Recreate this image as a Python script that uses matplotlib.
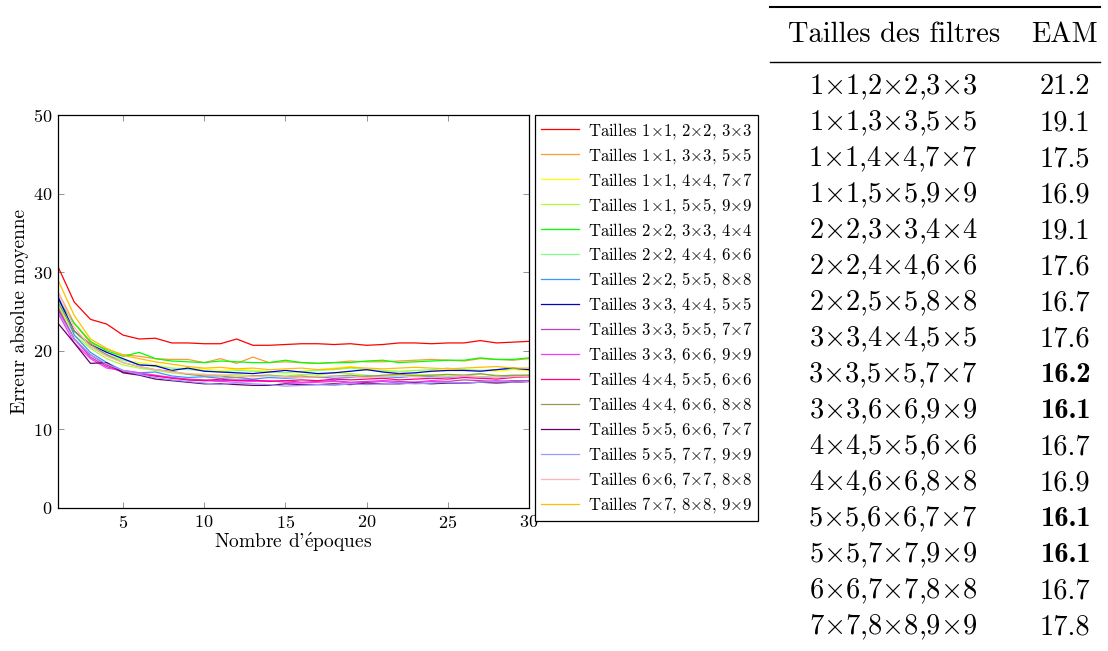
import matplotlib
matplotlib.use('Agg')
import matplotlib.pyplot as plt
import numpy as np
from matplotlib.lines import Line2D

plt.rcParams['font.family'] = ['cmr10', 'DejaVu Serif']
plt.rcParams['mathtext.fontset'] = 'cm'
plt.rcParams['axes.unicode_minus'] = False
plt.rcParams['axes.formatter.use_mathtext'] = True

epochs = np.arange(1, 31)

labels = ['1$\\times$1, 2$\\times$2, 3$\\times$3', '1$\\times$1, 3$\\times$3, 5$\\times$5',
          '1$\\times$1, 4$\\times$4, 7$\\times$7', '1$\\times$1, 5$\\times$5, 9$\\times$9',
          '2$\\times$2, 3$\\times$3, 4$\\times$4', '2$\\times$2, 4$\\times$4, 6$\\times$6',
          '2$\\times$2, 5$\\times$5, 8$\\times$8', '3$\\times$3, 4$\\times$4, 5$\\times$5',
          '3$\\times$3, 5$\\times$5, 7$\\times$7', '3$\\times$3, 6$\\times$6, 9$\\times$9',
          '4$\\times$4, 5$\\times$5, 6$\\times$6', '4$\\times$4, 6$\\times$6, 8$\\times$8',
          '5$\\times$5, 6$\\times$6, 7$\\times$7', '5$\\times$5, 7$\\times$7, 9$\\times$9',
          '6$\\times$6, 7$\\times$7, 8$\\times$8', '7$\\times$7, 8$\\times$8, 9$\\times$9']

colors = ['#ff0000', '#ff9933', '#ffff00', '#aaff33', '#00ff00', '#80ff80',
          '#3399ff', '#0000cc', '#bf40bf', '#ff33ff', '#ff0080', '#999955',
          '#660066', '#9999ff', '#ffb3b3', '#ffbf00']

s_123 = [30.7, 26.2, 24.0, 23.4, 22.0, 21.5, 21.6, 21.0, 21.0, 20.9, 20.9, 21.5, 20.7, 20.7, 20.8,
         20.9, 20.9, 20.8, 20.9, 20.7, 20.8, 21.0, 21.0, 20.9, 21.0, 21.0, 21.3, 21.0, 21.1, 21.2]
s_135 = [27.5, 23.5, 21.0, 20.2, 19.5, 19.3, 19.0, 18.9, 18.9, 18.5, 19.0, 18.4, 19.2, 18.5, 18.6,
         18.5, 18.4, 18.5, 18.7, 18.6, 18.6, 18.7, 18.8, 18.9, 18.8, 18.7, 19.0, 18.9, 18.8, 19.0]
s_147 = [25.5, 22.5, 20.5, 19.5, 18.8, 18.5, 18.2, 17.8, 17.8, 17.7, 17.5, 17.7, 17.5, 17.4, 17.2,
         17.3, 17.6, 17.8, 18.0, 17.7, 17.4, 17.3, 17.5, 17.4, 17.5, 17.6, 17.5, 17.4, 17.6, 17.5]
s_159 = [25.8, 22.0, 20.3, 19.0, 18.2, 17.8, 17.5, 17.2, 17.0, 17.0, 16.9, 17.0, 16.8, 16.9, 16.8,
         17.0, 16.9, 17.2, 17.1, 16.9, 16.8, 16.9, 17.0, 16.9, 16.8, 16.9, 17.0, 16.9, 16.8, 16.9]
s_234 = [26.5, 23.5, 21.2, 20.0, 19.3, 19.8, 19.0, 18.7, 18.6, 18.5, 18.7, 18.6, 18.5, 18.5, 18.8,
         18.5, 18.4, 18.5, 18.5, 18.7, 18.8, 18.5, 18.6, 18.7, 18.8, 18.8, 19.1, 18.9, 18.9, 19.1]
s_246 = [26.0, 22.5, 20.5, 19.5, 18.8, 18.3, 18.0, 17.8, 17.6, 17.5, 17.3, 17.5, 17.4, 17.3, 17.2,
         17.4, 17.5, 17.6, 17.8, 17.6, 17.5, 17.4, 17.5, 17.6, 17.8, 17.6, 17.5, 17.6, 17.7, 17.6]
s_258 = [27.0, 22.0, 19.8, 18.5, 17.5, 17.2, 17.3, 16.8, 16.6, 16.7, 16.5, 16.6, 16.4, 16.6, 16.5,
         16.6, 16.7, 16.5, 16.6, 16.8, 16.7, 16.6, 16.8, 16.7, 16.6, 16.8, 16.7, 16.6, 16.8, 16.7]
s_345 = [26.8, 22.5, 20.8, 19.8, 19.0, 18.2, 18.1, 17.5, 17.8, 17.4, 17.3, 17.2, 17.1, 17.3, 17.5,
         17.3, 17.1, 17.2, 17.4, 17.6, 17.3, 17.1, 17.2, 17.4, 17.5, 17.5, 17.4, 17.6, 17.8, 17.6]
s_357 = [25.5, 21.5, 19.2, 18.0, 17.3, 17.0, 16.8, 16.6, 16.4, 16.3, 16.2, 16.3, 16.2, 16.1, 16.2,
         16.0, 16.1, 16.2, 16.0, 16.1, 16.2, 16.1, 16.0, 16.2, 16.1, 16.3, 16.2, 16.1, 16.2, 16.2]
s_369 = [24.8, 21.0, 19.0, 17.8, 17.5, 17.2, 16.9, 16.6, 16.3, 16.2, 16.1, 16.0, 16.1, 16.2, 16.0,
         15.9, 16.0, 16.1, 15.9, 16.0, 16.1, 15.9, 16.0, 16.1, 16.0, 15.9, 16.0, 16.2, 16.0, 16.1]
s_456 = [25.2, 21.5, 19.5, 18.2, 17.3, 17.0, 16.8, 16.5, 16.3, 16.2, 16.4, 16.2, 16.3, 16.1, 16.2,
         16.3, 16.2, 16.4, 16.3, 16.4, 16.5, 16.3, 16.4, 16.5, 16.4, 16.6, 16.5, 16.4, 16.6, 16.7]
s_468 = [26.2, 22.5, 20.8, 19.5, 18.5, 18.0, 17.6, 17.4, 17.0, 16.8, 16.8, 16.6, 16.8, 16.9, 16.7,
         16.8, 16.6, 16.8, 16.9, 16.7, 16.9, 17.0, 16.8, 16.9, 17.0, 16.9, 17.1, 16.8, 16.9, 16.9]
s_567 = [23.5, 21.0, 18.4, 18.5, 17.2, 16.9, 16.4, 16.2, 16.0, 15.8, 15.8, 15.7, 15.6, 15.6, 15.8,
         15.7, 15.7, 15.8, 15.7, 15.9, 15.8, 15.8, 15.9, 15.8, 15.9, 15.9, 16.0, 15.9, 16.0, 16.1]
s_579 = [25.0, 21.5, 19.5, 18.3, 17.5, 17.0, 16.6, 16.3, 16.1, 15.9, 15.7, 15.9, 15.8, 15.7, 15.5,
         15.6, 15.7, 15.6, 15.8, 15.7, 15.8, 15.9, 15.8, 15.9, 16.0, 15.9, 16.0, 16.1, 16.0, 16.1]
s_678 = [27.5, 23.0, 20.5, 19.3, 18.5, 18.0, 17.6, 17.3, 17.1, 17.0, 16.9, 16.8, 16.7, 16.8, 16.7,
         16.6, 16.7, 16.8, 16.7, 16.6, 16.7, 16.8, 16.7, 16.6, 16.7, 16.8, 16.7, 16.6, 16.7, 16.7]
s_789 = [29.0, 24.5, 21.5, 20.3, 19.4, 19.0, 18.6, 18.3, 18.0, 17.8, 17.9, 17.7, 17.8, 17.6, 17.7,
         17.8, 17.6, 17.7, 17.9, 17.8, 17.7, 17.8, 17.9, 17.8, 17.7, 17.8, 17.9, 18.0, 17.8, 17.8]

series = [s_123, s_135, s_147, s_159, s_234, s_246, s_258, s_345,
          s_357, s_369, s_456, s_468, s_567, s_579, s_678, s_789]

# table on the right
table_filters = ['1$\\times$1,2$\\times$2,3$\\times$3', '1$\\times$1,3$\\times$3,5$\\times$5',
                 '1$\\times$1,4$\\times$4,7$\\times$7', '1$\\times$1,5$\\times$5,9$\\times$9',
                 '2$\\times$2,3$\\times$3,4$\\times$4', '2$\\times$2,4$\\times$4,6$\\times$6',
                 '2$\\times$2,5$\\times$5,8$\\times$8', '3$\\times$3,4$\\times$4,5$\\times$5',
                 '3$\\times$3,5$\\times$5,7$\\times$7', '3$\\times$3,6$\\times$6,9$\\times$9',
                 '4$\\times$4,5$\\times$5,6$\\times$6', '4$\\times$4,6$\\times$6,8$\\times$8',
                 '5$\\times$5,6$\\times$6,7$\\times$7', '5$\\times$5,7$\\times$7,9$\\times$9',
                 '6$\\times$6,7$\\times$7,8$\\times$8', '7$\\times$7,8$\\times$8,9$\\times$9']
table_eam = ['21.2', '19.1', '17.5', '16.9', '19.1', '17.6', '16.7', '17.6',
             '16.2', '16.1', '16.7', '16.9', '16.1', '16.1', '16.7', '17.8']
table_bold = [False, False, False, False, False, False, False, False,
              True, True, False, False, True, True, False, False]

W, H = 1108, 651
fig = plt.figure(figsize=(W / 100, H / 100), dpi=100)
ax = fig.add_axes([58 / W, 1 - 508 / H, (529 - 58) / W, (508 - 115) / H])

for s, lab, c in zip(series, labels, colors):
    ax.plot(epochs, s, color=c, lw=0.9, label='Tailles ' + lab)

ax.set_xlim(1, 30)
ax.set_ylim(0, 50)
ax.set_xticks([5, 10, 15, 20, 25, 30])
ax.set_yticks([0, 10, 20, 30, 40, 50])
ax.tick_params(direction='in', top=True, right=True, length=4, width=0.5,
               color='0.4', labelsize=13, pad=4)
for sp in ax.spines.values():
    sp.set_linewidth(0.9)
ax.set_xlabel("Nombre d'$\\mathrm{\\acute{e}}$poques", fontsize=14, labelpad=0)
ax.set_ylabel('Erreur absolue moyenne', fontsize=14, labelpad=3)

leg = ax.legend(loc='upper left', bbox_to_anchor=(535 / W, 1 - 115 / H),
                bbox_transform=fig.transFigure, borderaxespad=0, fontsize=12,
                fancybox=False, edgecolor='black', framealpha=1,
                handlelength=2.3, labelspacing=0.3, borderpad=0.35, handletextpad=0.5)
leg.get_frame().set_linewidth(0.9)

# table drawn with figure text
x0, x1 = 770 / W, 1100 / W
fig.add_artist(Line2D([x0, x1], [1 - 7 / H, 1 - 7 / H], color='black', lw=1.5))
fig.add_artist(Line2D([x0, x1], [1 - 62 / H, 1 - 62 / H], color='black', lw=1.0))
fig.text(894 / W, 1 - 35 / H, 'Tailles des filtres', fontsize=20.5, ha='center', va='center')
fig.text(1065 / W, 1 - 35 / H, 'EAM', fontsize=20.5, ha='center', va='center')
for i, (f, v, b) in enumerate(zip(table_filters, table_eam, table_bold)):
    y = 1 - (87 + 36 * i) / H
    fig.text(893 / W, y, f, fontsize=20.5, ha='center', va='center')
    fig.text(1065 / W, y, v, fontsize=20.5, ha='center', va='center',
             family='cmb10' if b else ['cmr10', 'DejaVu Serif'])

fig.savefig('out.png', dpi=100)
